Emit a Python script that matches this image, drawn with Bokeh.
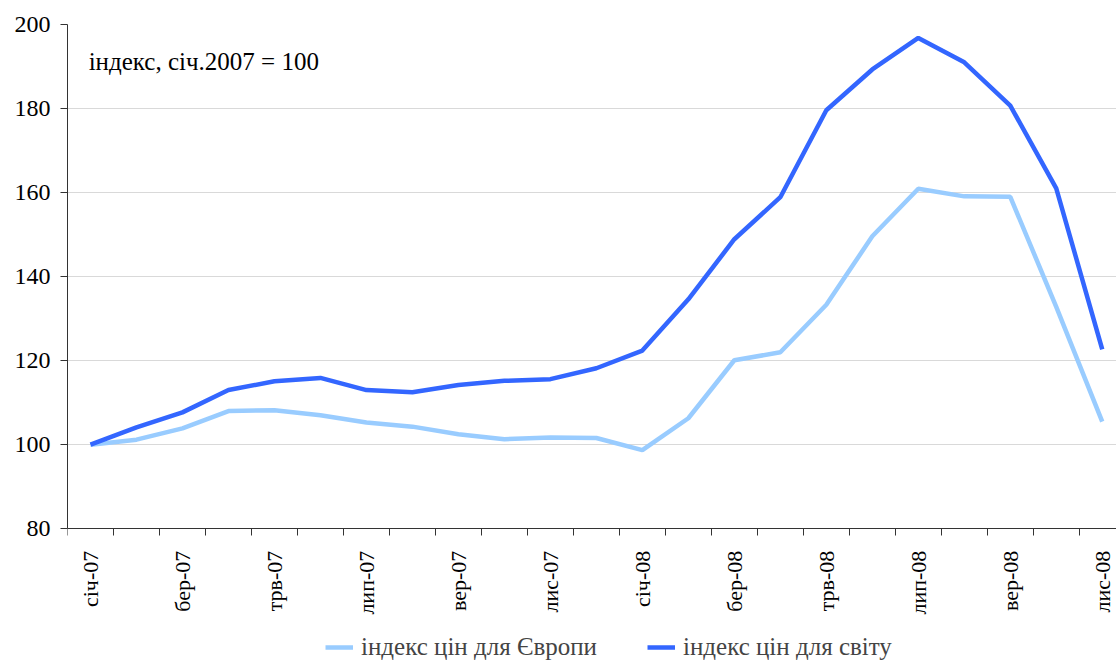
import math
from bokeh.plotting import figure
from bokeh.models import (Range1d, FixedTicker, Legend, LegendItem, Label)
from bokeh.embed import file_html
from bokeh.resources import INLINE

months = ["січ-07", "лют-07", "бер-07", "кві-07", "трв-07", "чер-07", "лип-07", "сер-07",
          "вер-07", "жов-07", "лис-07", "гру-07", "січ-08", "лют-08", "бер-08", "кві-08",
          "трв-08", "чер-08", "лип-08", "сер-08", "вер-08", "жов-08", "лис-08"]
europe = [100, 101.2, 103.9, 108.0, 108.2, 107.0, 105.3, 104.3, 102.5, 101.3, 101.7, 101.6,
          98.7, 106.3, 120.1, 122.0, 133.3, 149.6, 160.9, 159.1, 159.0, 132.8, 105.5]
world = [100, 104.1, 107.7, 113.0, 115.1, 115.9, 113.0, 112.5, 114.2, 115.2, 115.6, 118.2,
         122.4, 134.6, 148.9, 158.9, 179.6, 189.3, 196.8, 191.0, 180.7, 161.0, 122.7]
y_ticks = [80, 100, 120, 140, 160, 180, 200]
label_europe = "індекс цін для Європи"
label_world = "індекс цін для світу"
note = "індекс, січ.2007 = 100"

FONT = "'Liberation Serif', 'Times New Roman', serif"
FS = "24px"
FSX = "22px"
x = list(range(len(months)))

# frame runs to the bottom of the page; the value axis covers 80..200 in its upper part
p = figure(output_backend="svg", toolbar_location=None,
           frame_width=1049, frame_height=638,
           min_border_left=67, min_border_right=0, min_border_top=24, min_border_bottom=0,
           x_range=Range1d(-0.5, 22.31), y_range=Range1d(48.17, 200))
p.outline_line_color = None
p.background_fill_color = "white"
p.border_fill_color = "white"

r1 = p.line(x, europe, line_color="#99CCFF", line_width=4.5)
r2 = p.line(x, world, line_color="#3366FF", line_width=4.5)

# x axis drawn at y = 80
xa = p.xaxis[0]
xa.fixed_location = 80
xa.ticker = FixedTicker(ticks=x[::2], minor_ticks=[i - 0.5 for i in range(len(months) + 1)])
xa.major_label_overrides = {i: months[i] for i in x[::2]}
xa.major_label_orientation = math.pi / 2
xa.major_tick_out = 0
xa.major_tick_in = 0
xa.minor_tick_out = 7
xa.minor_tick_in = 0
xa.minor_tick_line_color = "#333333"
xa.axis_line_color = "#333333"
xa.major_label_standoff = 15
xa.major_label_text_font = FONT
xa.major_label_text_font_size = FSX
xa.major_label_text_color = "black"

ya = p.yaxis[0]
ya.bounds = (80, 200)
ya.ticker = FixedTicker(ticks=y_ticks)
ya.major_tick_out = 7
ya.major_tick_in = 0
ya.minor_tick_line_color = None
ya.axis_line_color = "#333333"
ya.major_tick_line_color = "#333333"
ya.major_label_standoff = 10
ya.major_label_text_font = FONT
ya.major_label_text_font_size = FS
ya.major_label_text_color = "black"

p.xgrid.grid_line_color = None
p.ygrid.grid_line_color = "#D9D9D9"
p.ygrid.ticker = FixedTicker(ticks=y_ticks)

p.add_layout(Label(x=-0.04, y=191.3, text=note, text_font=FONT, text_font_size="25px",
                   text_baseline="middle", text_color="black"))

legend = Legend(items=[LegendItem(label=label_europe, renderers=[r1]),
                       LegendItem(label=label_world, renderers=[r2])],
                orientation="horizontal", location=(258, 1),
                border_line_color=None, background_fill_alpha=0,
                label_text_font=FONT, label_text_font_size="25px",
                glyph_width=28, label_standoff=8, spacing=50, padding=0, margin=0)
p.add_layout(legend)

open("out.html", "w").write(file_html(p, INLINE))
